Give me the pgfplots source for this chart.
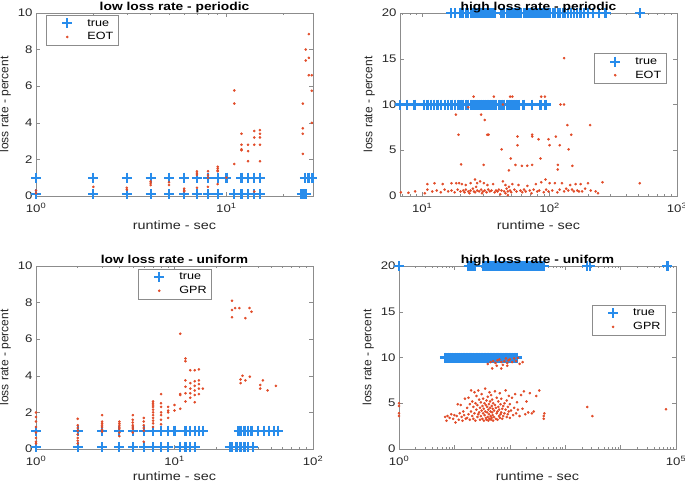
\documentclass[border=0pt]{standalone}
\usepackage{pgfplots}
\pgfplotsset{compat=1.18}
\usepackage{fontspec}
\setmainfont{Liberation Sans}[FakeStretch=1.2]
\newfontfamily\yfont{Liberation Sans}
\definecolor{tblue}{RGB}{40,140,235}
\definecolor{ered}{RGB}{225,75,40}
\definecolor{axgray}{RGB}{140,140,140}
\pgfplotsset{
  mystyle/.style={
    scale only axis, width=277pt, height=183pt, anchor=south west,
    clip=false,
    axis line style={axgray, line width=0.6pt},
    tick style={axgray, line width=0.5pt},
    tick align=inside,
    major tick length=4pt, minor tick length=2pt,
    ticklabel style={font=\fontsize{11}{12}\selectfont, text=black!85},
    xticklabel style={yshift=-4pt},
    /pgf/number format/assume math mode=true,
    xlabel style={font=\fontsize{12}{13}\selectfont, text=black!85, yshift=-3pt, inner sep=1pt},
    ylabel style={font=\yfont\fontsize{12}{13}\selectfont, text=black!85},
    title style={font=\bfseries\fontsize{11.5}{13}\selectfont, at={(0.5,1)}, anchor=base, yshift=-3pt},
    legend style={draw=axgray, font=\fontsize{10.5}{12}\selectfont, anchor=north west, inner xsep=3pt, inner ysep=2pt, row sep=1pt},
    legend cell align=left,
    legend image code/.code={\path (0pt,0pt) (34pt,0pt); \draw[##1] plot coordinates {(17pt,0pt)};},
    xlabel={runtime - sec}, ylabel={loss rate - percent},
  },
  truestyle/.style={only marks, mark=+, mark size=5pt, color=tblue, line width=2.2pt},
  estyle/.style={only marks, mark=*, mark size=1.1pt, color=ered},
}
\begin{document}
\begin{tikzpicture}
\useasboundingbox (0,0) rectangle (685pt,483pt);
% ---------------- top left ----------------
\begin{axis}[mystyle, at={(36pt,287pt)}, xmode=log, xmin=1, xmax=28.5, ymin=0, ymax=10,
  xtick={1,10}, xticklabels={10\textsuperscript{0},10\textsuperscript{1}},
  minor xtick={2,3,4,5,6,7,8,9,20},
  ytick={0,2,4,6,8,10},
  title={low loss rate - periodic},
  legend style={at={(0.036,0.989)}}]
\addplot[truestyle] coordinates {
(1,1)(2,1)(3,1)(4,1)(5,1)(6,1)(7,1)(8,1)(9,1)(10,1)(12,1)(13,1)(14,1)(15,1)(25.8,1)(27,1)(28.3,1)
(1,0.1)(2,0.1)(3,0.1)(4,0.1)(5,0.1)(6,0.1)(7,0.1)(8,0.1)(9,0.1)(11,0.1)(12,0.1)(13,0.1)(14,0.1)(15,0.1)(24.8,0.1)(25.5,0.1)(26.3,0.1)
};
\addlegendentry{true}
\addplot[estyle] coordinates {
(1,0.3)(1,0.15)(2,0.5)(3,0.45)(3,0.35)(4,0.8)(4,0.7)(4,0.6)(5,0.75)(5,0.6)
(6,0.4)(6,0.3)(6,0.25)(7,1.35)(7,1.25)(7,1.15)(7,0.45)(8,1.35)(8,1.15)(8,1.0)(8,0.5)
(9,1.6)(9,1.5)(9,1.4)(9,1.35)(9,0.65)(10,1.0)
(11,5.77)(11,5.05)(11,1.75)(12,3.4)(12,2.8)(12,2.55)(12,2.5)
(13,2.8)(13,2.45)(13,1.9)(14,3.55)(14,3.2)(14,2.8)(14,0.25)
(15,3.6)(15,3.4)(15,3.2)(15,2.8)(15,1.9)
(25.2,5.05)(25.2,3.7)(25.2,3.4)(25.2,2.3)(26.1,8.0)(26.1,7.4)
(27.1,8.85)(27.1,7.55)(27.1,6.6)(28.1,6.6)(28.1,5.75)(28.1,4.0)
};
\addlegendentry{EOT}
\end{axis}
% ---------------- top right ----------------
\begin{axis}[mystyle, at={(400pt,287pt)}, xmode=log, xmin=6.7, xmax=1000, ymin=0, ymax=20,
  xtick={10,100,1000}, xticklabels={10\textsuperscript{1},10\textsuperscript{2},10\textsuperscript{3}},
  minor xtick={7,8,9,20,30,40,50,60,70,80,90,200,300,400,500,600,700,800,900},
  ytick={0,5,10,15,20},
  title={high loss rate - periodic},
  legend style={at={(0.70,0.78)}}]
\addplot[truestyle] coordinates {
(16.8,20)(18,20)(20,20)(21,20)(22,20)(23,20)(24,20)(25,20)(26,20)(27,20)(28,20)(29,20)(30,20)(31,20)(32,20)(33,20)(34,20)(35,20)(36,20)(37,20)
(42,20)(44,20)(46,20)(48,20)(50,20)(52,20)(54,20)(56,20)(58,20)(60,20)(63,20)(66,20)(69,20)(72,20)(75,20)(78,20)(81,20)(85,20)(89,20)(93,20)(97,20)
(101,20)(106,20)(111,20)(116,20)(121,20)(127,20)(133,20)(140,20)(147,20)(155,20)(165,20)(175,20)(185,20)(200,20)(220,20)(245,20)(275,20)(515,20)
(6.7,10)(7.6,10)(8.7,10)(10.3,10)(11,10)(11.7,10)(12.4,10)(13.2,10)(14,10)(15,10)(16,10)(17,10)(18,10)(19,10)(20,10)(21,10)(22,10)(23,10)(24,10)(25,10)
(26,10)(27,10)(28,10)(29,10)(30,10)(31,10)(32,10)(33,10)(34,10)(35,10)(36,10)(37,10)(38,10)(40,10)(42,10)(44,10)(46,10)(48,10)(50,10)(52,10)(54,10)(57,10)
(62.5,10)(73,10)(85,10)(93,10)
};
\addlegendentry{true}
\addplot[estyle] coordinates {
(130,15.06)(25.3,10.86)(36.5,10.86)(49,10.86)(51,10.86)(86,10.86)(92,10.86)(122,10)(130,10)(43,10)(23,9.7)
(18.4,8.9)(29,8.9)(31,8.3)(19.3,6.7)(32.4,6.7)(33.2,6.7)(138,7.75)(208,7.75)(56,6.5)(73,6.7)(73,6.5)
(82,6.2)(98,6.2)(112,6.5)(148,6.7)(56,5.55)(100,5.55)(120,5.55)(42,5.1)(141,5.1)(85,4.1)(49.5,4.1)
(20.2,3.45)(30.4,3.4)(54,3.4)(60.6,3.3)(66.8,3.3)(73,3.4)(116,3.4)(116,2.9)(151,3.3)(48,2.8)(93,1.8)(26,1.8)
(6.8,0.4)(7.8,0.35)(8.8,0.5)(10.5,0.3)(11,0.7)(11,1.3)(12,0.5)(12.5,1.4)(13,0.6)(14,0.4)(14.5,1.3)(15,0.7)
(16,0.5)(17,0.6)(17,1.4)(18,0.4)(18.5,1.4)(19,0.7)(19.5,1.4)(20,0.5)(20.5,1.3)(21,0.6)(21.5,0.4)(22,0.7)
(22,1.2)(23,0.5)(23.5,0.3)(24,0.6)(24,1.4)(25,0.8)(25.5,0.5)(26,0.4)(26.5,1.0)(27,0.6)(27,1.4)(28,0.5)
(28.5,1.6)(29,0.7)(29.5,0.3)(30,0.5)(30.5,1.4)(31,0.6)(32,0.4)(32.5,1.2)(33,0.7)(34,0.5)(35,0.6)(36,1.3)
(37,0.4)(38,0.6)(39,0.5)(40,0.7)(41,0.2)(42,0.6)(43,1.6)(44,0.5)(45,0.3)(45,1.2)(46,0.8)(47,0.1)(47,0.5)
(48,1.0)(49,0.6)(50,0.4)(51,1.3)(53,0.7)(55,0.5)(57,1.2)(59,0.6)(61,0.4)(63,0.7)(65,0.5)(67,1.1)(70,0.6)
(72,0.3)(75,0.7)(78,1.3)(80,0.5)(83,0.6)(86,1.5)(90,0.4)(94,0.7)(98,0.5)(100,1.4)(105,0.6)(110,1.4)
(115,0.4)(120,0.7)(125,1.4)(130,0.5)(135,0.8)(140,0.6)(145,1.2)(150,0.7)(155,0.5)(160,1.3)(165,0.6)
(170,0.5)(175,1.3)(180,0.5)(190,0.8)(200,1.4)(210,0.6)(230,0.5)(240,0.3)(260,1.5)(510,1.4)
};
\addlegendentry{EOT}
\end{axis}
% ---------------- bottom left ----------------
\begin{axis}[mystyle, at={(36pt,34pt)}, xmode=log, xmin=1, xmax=100, ymin=0, ymax=10,
  xtick={1,10,100}, xticklabels={10\textsuperscript{0},10\textsuperscript{1},10\textsuperscript{2}},
  minor xtick={2,3,4,5,6,7,8,9,20,30,40,50,60,70,80,90},
  ytick={0,2,4,6,8,10},
  title={low loss rate - uniform},
  xlabel style={yshift=2pt},
  legend style={at={(0.368,0.984)}}]
\addplot[truestyle] coordinates {
(1,1)(2,1)(3,1)(4,1)(5,1)(6,1)(7,1)(8,1)(9,1)(10,1)(12,1)(13,1)(14,1)(15,1)(16,1)(29,1)(30,1)(32,1)(34,1)(36,1)(40,1)(44,1)(48,1)(52,1)(56,1)
(1,0.1)(2,0.1)(3,0.1)(4,0.1)(5,0.1)(6,0.1)(7,0.1)(8,0.1)(9,0.1)(11,0.1)(12,0.1)(13,0.1)(14,0.1)(25,0.1)(26,0.1)(28,0.1)(30,0.1)(32,0.1)(34,0.1)(37,0.1)
};
\addlegendentry{true}
\addplot[estyle] coordinates {
(1,2.0)(1,1.75)(1,1.5)(1,1.2)(1,0.9)(1,0.6)(1,0.4)(1,0.3)
(2,1.65)(2,1.3)(2,1.15)(2,1.0)(2,0.8)(2,0.6)(2,0.45)(2,0.3)
(3,1.85)(3,1.5)(3,1.4)(3,1.3)(3,1.2)(3,1.05)(3,0.95)
(4,1.5)(4,1.4)(4,1.3)(4,1.2)(4,1.1)(4,0.9)(4,0.7)
(5,1.85)(5,1.6)(5,1.45)(5,1.3)(5,1.2)(5,1.1)(5,0.9)
(6,1.7)(6,1.5)(6,1.3)(6,1.15)(6,1.0)(6,0.4)
(7,2.6)(7,2.5)(7,2.4)(7,2.3)(7,2.15)(7,2.0)(7,1.85)(7,1.7)(7,1.55)(7,1.4)(7,1.2)
(8,3.0)(8,2.5)(8,2.3)(8,2.0)(8,1.85)(8,1.6)(8,1.35)
(9,2.3)(9,2.1)(9,2.0)(9,1.7)(10,2.4)(10,2.1)
(11,6.3)(11,3.0)(11,2.95)(11,2.2)
(12,4.95)(12,4.8)(12,3.75)(12,3.4)(12,3.05)(12,2.6)
(13,4.3)(13,3.6)(13,3.3)(13,3.05)(13,2.8)
(14,4.3)(14,3.7)(14,3.45)(14,3.2)(14,2.95)(14,2.55)
(15,4.35)(15,3.75)(15,3.55)(15,3.3)(15,3.0)(16,3.3)
(26,8.1)(26,7.6)(26,7.2)(27.4,7.7)(29.4,7.7)(32.5,7.15)(34.8,7.7)(36,7.5)
(30,3.8)(30,3.6)(31,4.0)(32.5,3.75)(35,3.95)(41.6,3.5)(41.6,3.3)(43.5,3.75)(47,3.2)(54,3.45)
};
\addlegendentry{GPR}
\end{axis}
% ---------------- bottom right ----------------
\begin{axis}[mystyle, at={(399pt,34pt)}, xmode=log, xmin=1, xmax=100000, ymin=0, ymax=20,
  xtick={1,10,100,1000,10000,100000}, xticklabels={10\textsuperscript{0},,,,,10\textsuperscript{5}},
  ytick={0,5,10,15,20},
  title={high loss rate - uniform},
  xlabel style={yshift=2pt},
  legend style={at={(0.696,0.787)}}]
\addplot[truestyle] coordinates {
(1,20)(18,20)(20,20)(22,20)(23.5,20)(33,20)(36,20)(39,20)(42,20)(45,20)(48,20)(52,20)(56,20)(60,20)(64,20)(68,20)(72,20)(77,20)
(82,20)(88,20)(94,20)(100,20)(107,20)(114,20)(122,20)(130,20)(140,20)(150,20)(160,20)(172,20)(185,20)(200,20)(215,20)(230,20)
(250,20)(270,20)(290,20)(320,20)(350,20)(380,20)(410,20)(2500,20)(2800,20)(70000,20)
(6.7,10)(7.5,10)(8.2,10)(9,10)(10,10)(11,10)(12,10)(13,10)(14,10)(15,10)(16,10)(17,10)(18,10)(19,10)(20,10)(22,10)(24,10)(26,10)
(28,10)(30,10)(32,10)(34,10)(36,10)(38,10)(40,10)(43,10)(46,10)(49,10)(52,10)(55,10)(58,10)(62,10)(66,10)(70,10)(75,10)(80,10)
(85,10)(90,10)(96,10)(102,10)(110,10)(118,10)(126,10)(134,10)
};
\addlegendentry{true}
\addplot[estyle] coordinates {
(40,9.3)(45,9.5)(50,9.6)(55,9.4)(60,9.7)(65,9.8)(70,9.5)(75,9.2)(80,9.6)(85,9.9)(90,9.4)(95,9.7)(100,9.8)(110,9.5)
(120,9.9)(130,9.6)(150,9.3)(170,9.5)(48,8.8)(70,8.8)(58,9.1)(90,9.1)(140,9.95)
(6.8,3.5)(7.2,3.1)(7.5,3.6)(8.2,3.4)(8.8,3.8)(9.5,3.3)(10,3.7)(10.5,2.9)(11,3.6)(11.5,4.9)(12,3.2)(12.5,3.9)(13,4.8)
(13.5,3.5)(14,3.1)(14.5,4.1)(15,3.7)(15.5,5.5)(16,3.3)
(17,4.5)(17,3.4)(18,5.6)(18,3.8)(19,3.2)(19,4.9)(20,6.4)(20,4.1)(21,3.6)(21,5.2)(22,3.3)(22,4.6)(23,6.2)(23,3.9)(24,5.0)
(24,3.1)(25,4.3)(25,5.8)(26,3.5)(26,4.8)(27,3.8)(27,6.4)(28,4.0)(28,5.4)(29,3.2)(29,4.5)(30,5.1)(30,3.6)(31,4.2)(31,6.0)
(32,3.3)(32,4.7)(33,3.9)(33,5.5)(34,3.1)(34,4.4)(35,5.0)(35,3.7)(36,6.6)(36,4.1)(37,3.4)(37,4.8)(38,5.3)(38,3.2)(39,4.0)
(39,4.6)(40,3.5)(40,5.7)(41,4.3)(41,3.1)(42,4.9)(42,3.8)(43,6.2)(43,3.3)(44,4.5)(44,5.2)(45,3.6)(45,4.1)(46,3.2)(46,5.9)
(47,4.7)(47,3.4)(48,4.0)(48,5.4)(49,3.7)(49,4.4)(50,3.1)(50,5.0)(52,4.2)(52,3.5)(54,4.8)(54,6.3)(56,3.3)(56,4.5)(58,3.9)
(58,5.6)(60,4.1)(60,3.2)(62,4.6)(62,5.2)(64,3.6)(64,4.3)(66,3.4)(66,6.1)(68,4.9)(68,3.8)(70,4.0)(70,5.5)(73,3.3)(73,4.4)
(76,4.7)(76,3.6)(80,5.0)(80,3.9)(84,4.3)(84,6.4)(88,3.5)(88,5.3)(92,4.6)(92,3.8)(96,4.1)(96,5.8)(100,3.4)(100,4.9)
(105,4.2)(110,5.6)(115,3.7)(120,4.5)(125,6.0)(130,3.9)(135,5.1)(140,4.3)(150,3.6)(160,5.9)(170,4.4)(180,6.3)(190,3.8)
(200,5.2)(215,4.0)(230,6.1)(250,3.9)(270,4.1)(300,5.8)(340,6.4)(410,3.3)(410,3.6)(420,3.9)
(1,5.0)(1,4.7)(1,3.9)(1,3.6)(2500,4.6)(3100,3.6)(66000,4.35)
};
\addlegendentry{GPR}
\end{axis}
\end{tikzpicture}
\end{document}
